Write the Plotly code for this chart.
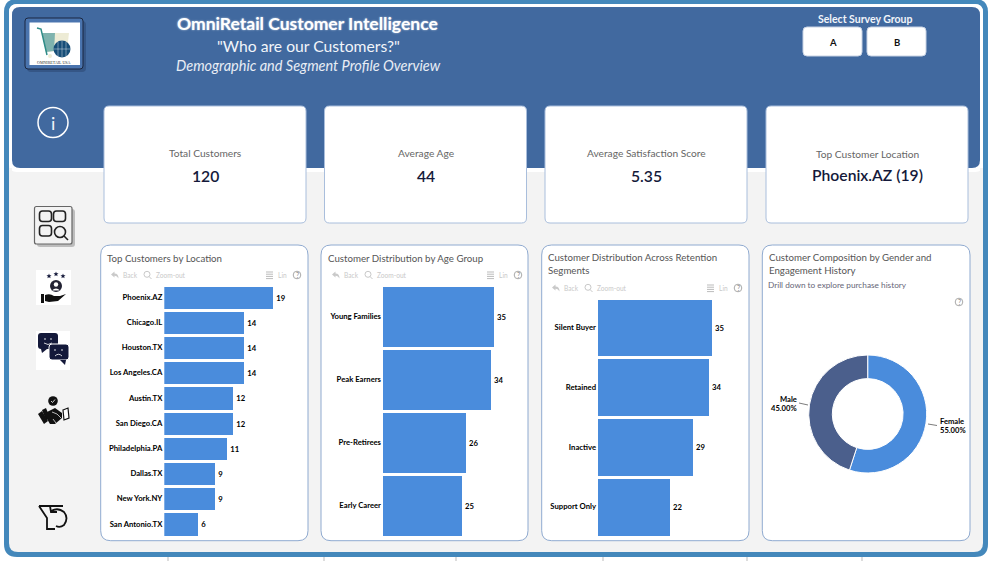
# OmniRetail customer dashboard page
import plotly.graph_objects as go

# Data
location_names = ["Phoenix.AZ", "Chicago.IL", "Houston.TX", "Los Angeles.CA", "Austin.TX",
                  "San Diego.CA", "Philadelphia.PA", "Dallas.TX", "New York.NY", "San Antonio.TX"]
location_counts = [19, 14, 14, 14, 12, 12, 11, 9, 9, 6]
age_groups = ["Young Families", "Peak Earners", "Pre-Retirees", "Early Career"]
age_counts = [35, 34, 26, 25]
retention_segments = ["Silent Buyer", "Retained", "Inactive", "Support Only"]
retention_counts = [35, 34, 29, 22]
genders = ["Female", "Male"]
gender_share = [55.0, 45.0]

kpi_labels = ["Total Customers", "Average Age", "Average Satisfaction Score", "Top Customer Location"]
kpi_values = ["120", "44", "5.35", "Phoenix.AZ (19)"]

W, H = 991, 561
FONT = "Lato"
BAR_BLUE = "#4A8CDC"
HEADER = "#41699F"
FRAME = "#4488BB"
PAGE = "#F3F3F3"
BORDER = "#8FAAD0"
NAVY = "#14193A"
TOOL = "#C9C9C9"

fig = go.Figure()
shapes = []
notes = []


def rrect(x0, y0, x1, y1, r):
    return (f"M{x0+r},{y0} L{x1-r},{y0} Q{x1},{y0} {x1},{y0+r} L{x1},{y1-r} Q{x1},{y1} {x1-r},{y1} "
            f"L{x0+r},{y1} Q{x0},{y1} {x0},{y1-r} L{x0},{y0+r} Q{x0},{y0} {x0+r},{y0} Z")


def path(d, fill="rgba(0,0,0,0)", line=None, width=1):
    shapes.append(dict(type="path", path=d, xref="x", yref="y", layer="below", fillcolor=fill,
                       line=dict(color=line or "rgba(0,0,0,0)", width=width if line else 0)))


def circle(cx, cy, r, fill="rgba(0,0,0,0)", line=None, width=1):
    shapes.append(dict(type="circle", x0=cx-r, x1=cx+r, y0=cy-r, y1=cy+r, xref="x", yref="y", layer="below",
                       fillcolor=fill, line=dict(color=line or "rgba(0,0,0,0)", width=width if line else 0)))


def text(x, y, s, size=10, color="#555555", anchor="center", family=FONT, **font_extra):
    notes.append(dict(x=x, y=y, text=s, xref="x", yref="y", showarrow=False, xanchor=anchor, yanchor="middle",
                      borderpad=0, font=dict(size=size, color=color, family=family, **font_extra)))


# Frame and header
path(rrect(4, -1, 988, 557, 13), fill=FRAME)
path(rrect(9, 4, 983, 552, 9), fill=PAGE)
path(rrect(9, 4, 983, 172, 8), fill="#FFFFFF")
path(rrect(12, 7, 980, 168, 8), fill=HEADER)
path("M9,168 L12,168 L12,176 L9,176 Z", fill=PAGE)
path("M980,160 L983,160 L983,176 L980,176 Z", fill="#FFFFFF")
path("M980,168 L983,168 L983,176 L980,176 Z", fill=PAGE)
for tick_x in [168, 324, 456, 603, 747, 862]:
    path(f"M{tick_x},557 L{tick_x},561", line="#BBBBBB")

text(307.5, 23, "<b>OmniRetail Customer Intelligence</b>", size=17.5, color="#FFFFFF",
     shadow="0px 0px 2px rgba(255,255,255,0.7)")
text(308, 45.5, "\"Who are our Customers?\"", size=15.7, color="#F2F5FA")
text(308, 65, "<i>Demographic and Segment Profile Overview</i>", size=14.5, color="#E8EDF5")

# Survey group slicer
text(865, 18.5, "<b>Select Survey Group</b>", size=10.5, color="#F2F5FA")
for btn_x, letter in [(803, "A"), (867, "B")]:
    path(rrect(btn_x, 27, btn_x + 59, 56, 4), fill="#FFFFFF", line="#C8D3E4")
    text(btn_x + 29.5, 42.5, f"<b>{letter}</b>", size=9.5, color="#111111")

# KPI cards
card_lefts = [104, 324.5, 545, 766]
for left, label, value in zip(card_lefts, kpi_labels, kpi_values):
    path(rrect(left, 106, left + 202, 223, 5), fill="#FFFFFF", line="#A9BEDC")
    last = label == kpi_labels[-1]
    text(left + 101, 153.5 if last else 152.5, label, size=10.2, color="#666666")
    text(left + 101, 175 if last else 176, value, size=15.7, color=NAVY, weight=600)

# Chart panels
panels = [(100.7, 308), (321, 528), (541.7, 749), (762.3, 970)]
for x0, x1 in panels:
    path(rrect(x0, 245, x1, 540.7, 10), fill="#FFFFFF", line=BORDER)

text(106, 257.5, "Top Customers by Location", size=9.7, anchor="left")
text(326.5, 257.5, "Customer Distribution by Age Group", size=9.7, anchor="left")
text(546.5, 257, "Customer Distribution Across Retention", size=9.7, anchor="left")
text(546.5, 270, "Segments", size=9.7, anchor="left")
text(767.5, 257, "Customer Composition by Gender and", size=9.7, anchor="left")
text(767.5, 270, "Engagement History", size=9.7, anchor="left")
text(767, 285, "Drill down to explore purchase history", size=8.25, color="#666677", anchor="left")


# Back / Zoom-out / Lin toolbar above each bar chart
def help_icon(x, y):
    circle(x, y, 3.8, line="#AAAAAA")
    text(x, y, "?", size=7, color="#888888")


def toolbar(x, y):
    path(f"M{x},{y-0.5} L{x+3.5},{y-3.5} L{x+3.5},{y-1.5} Q{x+7.5},{y-1.5} {x+7.5},{y+3.5} "
         f"Q{x+6},{y+0.5} {x+3.5},{y+0.8} L{x+3.5},{y+2.5} Z", fill=TOOL)
    text(x + 11, y, "Back", size=6.6, color=TOOL, anchor="left")
    circle(x + 36, y - 0.7, 3, line=TOOL)
    path(f"M{x+38},{y+1.5} L{x+40.5},{y+4}", line=TOOL)
    text(x + 44, y, "Zoom-out", size=6.6, color=TOOL, anchor="left")
    for i in range(4):
        path(f"M{x+155},{y-3+i*2.2} L{x+162},{y-3+i*2.2}", line="#AAAAAA", width=0.8)
    text(x + 166, y, "Lin", size=6.6, color=TOOL, anchor="left")
    help_icon(x + 186, y)


toolbar(111, 275)
toolbar(332, 275)
toolbar(552, 288)
help_icon(959, 302)

# Logo
path(rrect(27, 21, 86, 72, 4), fill="rgba(20,30,60,0.25)")
path(rrect(25, 18, 83, 69, 3), fill="#4A74AE", line="#1B2740")
path("M29.5,22.5 L80,22.5 L80,65 L29.5,65 Z", fill="#FFFFFF")
path("M42,33 L69,33 L67,50 L46,52 Z", fill="#EDEBD5")
path("M42,33 L55,33 L54,51 L46,52 Z", fill="#7FB3AE")
path("M37,28 L41,29 L47,55", line="#2F8C88", width=1.5)
circle(50, 56, 2, fill="#EDEBD5")
circle(62, 49, 8.5, fill="#174E78")
path("M53.5,49 L70.5,49 M62,40.5 L62,57.5 M58,41.5 L58,56.5 M66,41.5 L66,56.5", line="#FFFFFF", width=0.4)
text(54, 62, "OMNIRETAIL USA", size=4, color="#333333", family="Liberation Serif")

# Info icon
circle(53, 122.5, 15, line="#FFFFFF", width=1.5)
text(53, 122.5, "i", size=18, color="#F2F5FA")

# Explore icon
path(rrect(37, 209, 75, 247, 3), fill="rgba(0,0,0,0.22)")
path(rrect(34.5, 206.5, 72, 244, 2), fill=PAGE, line="#666666", width=1.2)
for bx, by in [(39.5, 211), (53.5, 211), (39.5, 225.5)]:
    path(rrect(bx, by, bx + 12, by + 10.5, 3), line="#222222", width=1.6)
circle(60, 232, 5.5, line="#222222", width=1.6)
path("M64,236 L68,240", line="#222222", width=1.6)

# Customer care icon
path("M36,270 L71,270 L71,305 L36,305 Z", fill="#FFFFFF")
for sx, sy in [(49, 276), (56, 274), (63, 276)]:
    path(f"M{sx},{sy-2.5} L{sx+0.7},{sy-0.7} L{sx+2.5},{sy-0.7} L{sx+1.1},{sy+0.5} L{sx+1.6},{sy+2.3} "
         f"L{sx},{sy+1.2} L{sx-1.6},{sy+2.3} L{sx-1.1},{sy+0.5} L{sx-2.5},{sy-0.7} L{sx-0.7},{sy-0.7} Z", fill=NAVY)
circle(56, 286, 6, fill="#222233")
circle(56, 284.5, 2.2, fill="#FFFFFF")
path("M52,290.5 Q56,286.5 60,290.5 Z", fill="#FFFFFF")
path("M41,294 L44,294 L44,303 L41,303 Z", fill="#111111")
path("M45,295 Q50,293 54,296 L60,296 L66,294 L58,301 L49,302 L45,301 Z", fill="#111111")

# Feedback icon
path("M36,331 L70,331 L70,370 L36,370 Z", fill="#FFFFFF")
path(rrect(38, 333, 58, 349, 3), fill=NAVY)
path("M41,349 L47,349 L42,353 Z", fill=NAVY)
circle(45, 339, 0.8, fill="#FFFFFF")
circle(51, 339, 0.8, fill="#FFFFFF")
path("M44,343 Q48,346 52,343", line="#FFFFFF", width=0.8)
path(rrect(49, 344, 69, 360, 3), fill=NAVY, line="#FFFFFF")
path("M60,360 L66,360 L65,365 Z", fill=NAVY)
circle(55, 350, 0.8, fill="#FFFFFF")
circle(62, 350, 0.8, fill="#FFFFFF")
path("M55,356 Q58.5,352.5 62,356", line="#FFFFFF", width=0.8)

# Handshake icon
circle(53, 401, 4.8, fill="#111111")
path("M51,401 L52.5,402.5 L55,399.5", line="#FFFFFF", width=0.8)
path("M42,410 L46,408 L50,418 L46,420 Z", fill="#111111")
path("M38,414 L42,411 L48,421 L44,424 Z", fill="#111111")
path("M47,412 L55,408 L62,413 L62,418 L55,424 L50,424 L47,419 Z", fill="#111111")
path("M52,412 L57,414 L61,418 M53,419 L56,423", line="#FFFFFF", width=0.7)
path("M63,410 L68,408 L69,418 L64,420 Z", fill="#FFFFFF", line="#111111", width=1.2)

# Clear filters icon
path("M39,506 L63,506 M39,506 L47,518 L47,529 L55,529", line="#111111", width=1.8)
path("M51,511 Q58,507 64,512 Q69,518 64,525 Q60,528 56,526", line="#111111", width=1.8)
path("M50,506 L51,512 L57,512", line="#111111", width=1.8)

# Page axes in pixels, everything decorative above is drawn on these
fig.add_trace(go.Scatter(x=[], y=[], showlegend=False, hoverinfo="skip"))


def dom_x(a, b):
    return [a / W, b / W]


def dom_y(top, bottom):
    return [1 - bottom / H, 1 - top / H]


axes = dict(
    xaxis=dict(domain=[0, 1], range=[0, W], visible=False, fixedrange=True),
    yaxis=dict(domain=[0, 1], range=[H, 0], visible=False, fixedrange=True),
)

# Horizontal bar charts
bar_specs = [
    (location_names, location_counts, dom_x(164.3, 300), dom_y(284.5, 536.5), 23.72, 3 / 25.2),
    (age_groups, age_counts, dom_x(383, 522), dom_y(284.5, 536.5), 43.8, 3 / 63),
    (retention_segments, retention_counts, dom_x(598, 745), dom_y(297.5, 536.5), 45.1, 3 / 59.75),
]
for i, (names, counts, xdom, ydom, xmax, gap) in enumerate(bar_specs, start=2):
    fig.add_trace(go.Bar(
        x=counts, y=names, orientation="h", xaxis=f"x{i}", yaxis=f"y{i}",
        marker=dict(color=BAR_BLUE, line=dict(width=0)), width=1 - gap,
        text=counts, textposition="outside", cliponaxis=False,
        textfont=dict(size=7.7, color="#000000", family=FONT, weight=700),
        showlegend=False,
    ))
    axes[f"xaxis{i}"] = dict(domain=xdom, range=[0, xmax], visible=False, anchor=f"y{i}", fixedrange=True)
    axes[f"yaxis{i}"] = dict(domain=ydom, autorange="reversed", anchor=f"x{i}", fixedrange=True,
                             showgrid=False, showline=False, ticks="", automargin=False, ticklabelstandoff=1,
                             tickfont=dict(size=7.7, color="#000000", family=FONT, weight=700))

# Donut
fig.add_trace(go.Pie(
    labels=genders, values=gender_share, hole=0.6, sort=False, direction="clockwise",
    domain=dict(x=dom_x(808.7, 926.7), y=dom_y(355, 473)),
    marker=dict(colors=[BAR_BLUE, "#4B5F8C"], line=dict(color="#FFFFFF", width=1)),
    textinfo="none", showlegend=False,
))
label_font = dict(size=7.6, color="#000000", family=FONT, weight=700)
text(939, 421, genders[0], anchor="left", **label_font)
text(939, 429.5, f"{gender_share[0]:.2f}%", anchor="left", **label_font)
text(797.5, 399, genders[1], anchor="right", **label_font)
text(797.5, 407.5, f"{gender_share[1]:.2f}%", anchor="right", **label_font)
path("M928,424 L937,425.5", line="#444444", width=0.7)
path("M799,403 L808,405", line="#444444", width=0.7)

fig.update_layout(
    width=W, height=H, margin=dict(l=0, r=0, t=0, b=0), autosize=False,
    paper_bgcolor="#FFFFFF", plot_bgcolor="rgba(0,0,0,0)",
    shapes=shapes, annotations=notes, font=dict(family=FONT), bargap=0, **axes,
)

fig.write_html("out.html", config=dict(displayModeBar=False),
               post_script="document.body.style.margin='0';document.body.style.overflow='hidden';")
